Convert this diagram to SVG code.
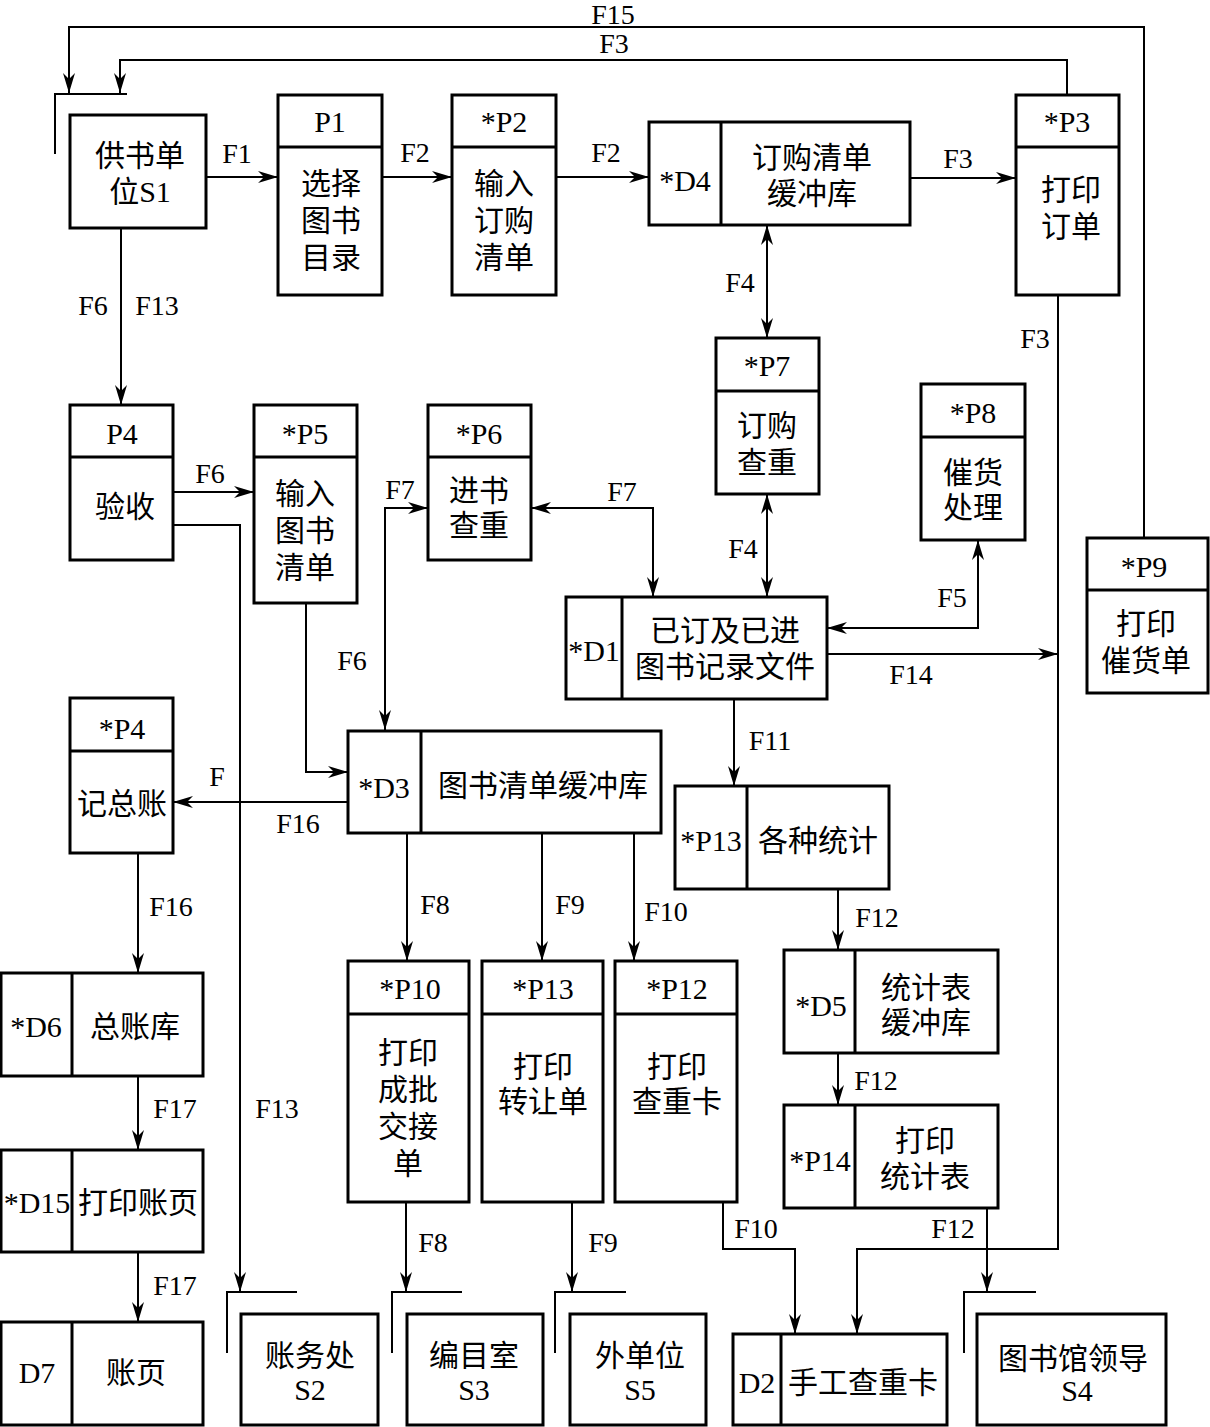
<svg xmlns="http://www.w3.org/2000/svg" width="1210" height="1427" viewBox="0 0 1210 1427">
<style>
.box{fill:#fff;stroke:#000;stroke-width:3}
.sep{stroke:#000;stroke-width:3}
.brk{fill:none;stroke:#000;stroke-width:2}
.c{fill:none;stroke:#000;stroke-width:2}
.a{marker-end:url(#ah)}
.b{marker-start:url(#ah);marker-end:url(#ah)}
text{font-family:"Liberation Serif","Noto Sans CJK SC",serif;font-size:30px;fill:#000;text-anchor:middle;dominant-baseline:central}
.l{font-size:28px}
</style>
<defs>
<marker id="ah" markerUnits="userSpaceOnUse" markerWidth="22" markerHeight="12" refX="20" refY="6" orient="auto-start-reverse">
<path d="M0,0 L20,6 L0,12 L6,6 z" fill="#000"/>
</marker>
</defs>
<rect width="1210" height="1427" fill="#fff"/>
<g id="connectors">
<path class="c a" d="M1144,538 V27 H69 V93"/>
<path class="c a" d="M1067,94 V60 H120 V93"/>
<path class="c a" d="M207,177 H278"/>
<path class="c a" d="M382,177 H452"/>
<path class="c a" d="M556,177 H649"/>
<path class="c a" d="M910,178 H1016"/>
<path class="c b" d="M767,225 V338"/>
<path class="c b" d="M767,494 V597"/>
<path class="c b" d="M531,508 H653 V597"/>
<path class="c b" d="M827,628 H978 V540"/>
<path class="c a" d="M827,654 H1058"/>
<path class="c a" d="M1058,295 V1249 H857 V1334"/>
<path class="c a" d="M121,229 V405"/>
<path class="c a" d="M173,492 H254"/>
<path class="c a" d="M173,525 H240 V1292"/>
<path class="c a" d="M306,603 V772 H348"/>
<path class="c b" d="M428,508 H385 V730"/>
<path class="c a" d="M348,802 H173"/>
<path class="c a" d="M138,854 V973"/>
<path class="c a" d="M138,1076 V1150"/>
<path class="c a" d="M138,1252 V1322"/>
<path class="c a" d="M407,833 V961"/>
<path class="c a" d="M542,833 V961"/>
<path class="c a" d="M634,833 V961"/>
<path class="c a" d="M734,699 V786"/>
<path class="c a" d="M838,889 V950"/>
<path class="c a" d="M838,1053 V1105"/>
<path class="c a" d="M406,1202 V1292"/>
<path class="c a" d="M572,1202 V1292"/>
<path class="c a" d="M723,1202 V1249 H795 V1334"/>
<path class="c a" d="M987,1208 V1292"/>
<text class="l" x="613" y="14">F15</text>
<text class="l" x="614" y="43">F3</text>
<text class="l" x="237" y="153">F1</text>
<text class="l" x="415" y="152">F2</text>
<text class="l" x="606" y="152">F2</text>
<text class="l" x="958" y="158">F3</text>
<text class="l" x="740" y="282">F4</text>
<text class="l" x="1035" y="338">F3</text>
<text class="l" x="93" y="305">F6</text>
<text class="l" x="157" y="305">F13</text>
<text class="l" x="210" y="473">F6</text>
<text class="l" x="400" y="489">F7</text>
<text class="l" x="622" y="491">F7</text>
<text class="l" x="743" y="548">F4</text>
<text class="l" x="952" y="597">F5</text>
<text class="l" x="911" y="674">F14</text>
<text class="l" x="352" y="660">F6</text>
<text class="l" x="217" y="776">F</text>
<text class="l" x="298" y="823">F16</text>
<text class="l" x="770" y="740">F11</text>
<text class="l" x="171" y="906">F16</text>
<text class="l" x="435" y="904">F8</text>
<text class="l" x="570" y="904">F9</text>
<text class="l" x="666" y="911">F10</text>
<text class="l" x="877" y="917">F12</text>
<text class="l" x="876" y="1080">F12</text>
<text class="l" x="175" y="1108">F17</text>
<text class="l" x="277" y="1108">F13</text>
<text class="l" x="433" y="1242">F8</text>
<text class="l" x="603" y="1242">F9</text>
<text class="l" x="756" y="1228">F10</text>
<text class="l" x="953" y="1228">F12</text>
<text class="l" x="175" y="1285">F17</text>
</g>
<g id="S1">
<path class="brk" d="M55,154 V94 H127"/>
<rect class="box" x="70" y="115" width="136" height="113"/>
<text x="140" y="155">供书单</text>
<text x="140" y="191">位S1</text>
</g>
<g id="P1">
<rect class="box" x="278" y="95" width="104" height="200"/>
<line class="sep" x1="278" y1="147" x2="382" y2="147"/>
<text x="330" y="121">P1</text>
<text x="331" y="183">选择</text>
<text x="331" y="220">图书</text>
<text x="331" y="257">目录</text>
</g>
<g id="P2">
<rect class="box" x="452" y="95" width="104" height="200"/>
<line class="sep" x1="452" y1="147" x2="556" y2="147"/>
<text x="504" y="121">*P2</text>
<text x="504" y="183">输入</text>
<text x="504" y="220">订购</text>
<text x="504" y="257">清单</text>
</g>
<g id="D4">
<rect class="box" x="649" y="122" width="261" height="103"/>
<line class="sep" x1="721" y1="122" x2="721" y2="225"/>
<text x="685" y="180">*D4</text>
<text x="812" y="157">订购清单</text>
<text x="812" y="193">缓冲库</text>
</g>
<g id="P3">
<rect class="box" x="1016" y="95" width="103" height="200"/>
<line class="sep" x1="1016" y1="147" x2="1119" y2="147"/>
<text x="1067" y="121">*P3</text>
<text x="1071" y="189">打印</text>
<text x="1071" y="226">订单</text>
</g>
<g id="P7">
<rect class="box" x="716" y="338" width="103" height="156"/>
<line class="sep" x1="716" y1="391" x2="819" y2="391"/>
<text x="767" y="365">*P7</text>
<text x="767" y="425">订购</text>
<text x="767" y="462">查重</text>
</g>
<g id="P8">
<rect class="box" x="921" y="384" width="104" height="156"/>
<line class="sep" x1="921" y1="437" x2="1025" y2="437"/>
<text x="973" y="412">*P8</text>
<text x="973" y="472">催货</text>
<text x="973" y="507">处理</text>
</g>
<g id="P4a">
<rect class="box" x="70" y="405" width="103" height="155"/>
<line class="sep" x1="70" y1="457" x2="173" y2="457"/>
<text x="122" y="433">P4</text>
<text x="125" y="506">验收</text>
</g>
<g id="P5">
<rect class="box" x="254" y="405" width="103" height="198"/>
<line class="sep" x1="254" y1="457" x2="357" y2="457"/>
<text x="305" y="433">*P5</text>
<text x="305" y="493">输入</text>
<text x="305" y="530">图书</text>
<text x="305" y="567">清单</text>
</g>
<g id="P6">
<rect class="box" x="428" y="405" width="103" height="155"/>
<line class="sep" x1="428" y1="457" x2="531" y2="457"/>
<text x="479" y="433">*P6</text>
<text x="479" y="490">进书</text>
<text x="479" y="525">查重</text>
</g>
<g id="D1">
<rect class="box" x="566" y="597" width="261" height="102"/>
<line class="sep" x1="622" y1="597" x2="622" y2="699"/>
<text x="594" y="650">*D1</text>
<text x="725" y="630">已订及已进</text>
<text x="725" y="666">图书记录文件</text>
</g>
<g id="P9">
<rect class="box" x="1087" y="538" width="121" height="155"/>
<line class="sep" x1="1087" y1="590" x2="1208" y2="590"/>
<text x="1144" y="566">*P9</text>
<text x="1146" y="623">打印</text>
<text x="1146" y="660">催货单</text>
</g>
<g id="P4b">
<rect class="box" x="70" y="698" width="103" height="155"/>
<line class="sep" x1="70" y1="751" x2="173" y2="751"/>
<text x="122" y="728">*P4</text>
<text x="122" y="803">记总账</text>
</g>
<g id="D3">
<rect class="box" x="348" y="731" width="313" height="102"/>
<line class="sep" x1="421" y1="731" x2="421" y2="833"/>
<text x="384" y="787">*D3</text>
<text x="543" y="785">图书清单缓冲库</text>
</g>
<g id="P13a">
<rect class="box" x="675" y="786" width="214" height="103"/>
<line class="sep" x1="747" y1="786" x2="747" y2="889"/>
<text x="711" y="840">*P13</text>
<text x="818" y="840">各种统计</text>
</g>
<g id="D6">
<rect class="box" x="1" y="973" width="202" height="103"/>
<line class="sep" x1="72" y1="973" x2="72" y2="1076"/>
<text x="36" y="1026">*D6</text>
<text x="135" y="1026">总账库</text>
</g>
<g id="P10">
<rect class="box" x="348" y="961" width="121" height="241"/>
<line class="sep" x1="348" y1="1014" x2="469" y2="1014"/>
<text x="410" y="988">*P10</text>
<text x="408" y="1052">打印</text>
<text x="408" y="1089">成批</text>
<text x="408" y="1126">交接</text>
<text x="408" y="1163">单</text>
</g>
<g id="P13b">
<rect class="box" x="482" y="961" width="121" height="241"/>
<line class="sep" x1="482" y1="1014" x2="603" y2="1014"/>
<text x="543" y="988">*P13</text>
<text x="543" y="1066">打印</text>
<text x="543" y="1101">转让单</text>
</g>
<g id="P12">
<rect class="box" x="615" y="961" width="122" height="241"/>
<line class="sep" x1="615" y1="1014" x2="737" y2="1014"/>
<text x="677" y="988">*P12</text>
<text x="677" y="1066">打印</text>
<text x="677" y="1101">查重卡</text>
</g>
<g id="D5">
<rect class="box" x="784" y="950" width="214" height="103"/>
<line class="sep" x1="855" y1="950" x2="855" y2="1053"/>
<text x="821" y="1005">*D5</text>
<text x="926" y="987">统计表</text>
<text x="926" y="1022">缓冲库</text>
</g>
<g id="P14">
<rect class="box" x="784" y="1105" width="214" height="103"/>
<line class="sep" x1="855" y1="1105" x2="855" y2="1208"/>
<text x="820" y="1160">*P14</text>
<text x="925" y="1140">打印</text>
<text x="925" y="1176">统计表</text>
</g>
<g id="D15">
<rect class="box" x="1" y="1150" width="202" height="102"/>
<line class="sep" x1="72" y1="1150" x2="72" y2="1252"/>
<text x="37" y="1202">*D15</text>
<text x="138" y="1202">打印账页</text>
</g>
<g id="D7">
<rect class="box" x="1" y="1322" width="202" height="103"/>
<line class="sep" x1="72" y1="1322" x2="72" y2="1425"/>
<text x="37" y="1372">D7</text>
<text x="136" y="1372">账页</text>
</g>
<g id="S2">
<path class="brk" d="M227,1353 V1292 H297"/>
<rect class="box" x="241" y="1314" width="137" height="111"/>
<text x="310" y="1355">账务处</text>
<text x="310" y="1389">S2</text>
</g>
<g id="S3">
<path class="brk" d="M392,1353 V1292 H462"/>
<rect class="box" x="407" y="1314" width="136" height="111"/>
<text x="474" y="1355">编目室</text>
<text x="474" y="1389">S3</text>
</g>
<g id="S5">
<path class="brk" d="M555,1353 V1292 H626"/>
<rect class="box" x="570" y="1314" width="136" height="111"/>
<text x="640" y="1355">外单位</text>
<text x="640" y="1389">S5</text>
</g>
<g id="D2">
<rect class="box" x="733" y="1334" width="214" height="91"/>
<line class="sep" x1="781" y1="1334" x2="781" y2="1425"/>
<text x="757" y="1382">D2</text>
<text x="863" y="1382">手工查重卡</text>
</g>
<g id="S4">
<path class="brk" d="M964,1353 V1292 H1036"/>
<rect class="box" x="977" y="1314" width="189" height="111"/>
<text x="1073" y="1358">图书馆领导</text>
<text x="1077" y="1390">S4</text>
</g>
</svg>
